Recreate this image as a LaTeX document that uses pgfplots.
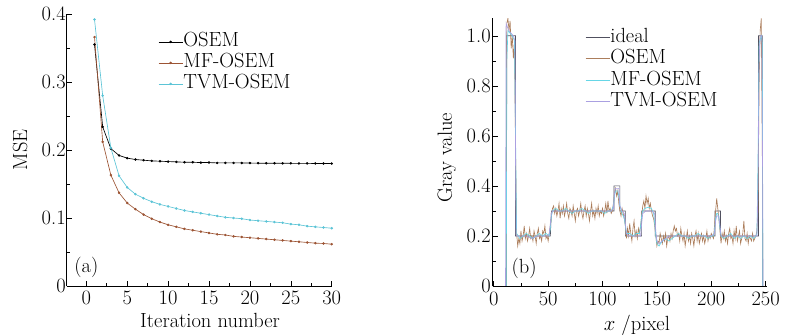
\documentclass[border=0pt]{standalone}
\usepackage{fontspec}
\setmainfont{Latin Modern Roman}
\usepackage{pgfplots}
\pgfplotsset{compat=1.18}
\definecolor{cOSEMa}{HTML}{000000}
\definecolor{cMFa}{HTML}{9C5434}
\definecolor{cTVMa}{HTML}{5CC4D6}
\definecolor{cIdeal}{HTML}{50505F}
\definecolor{cOSEMb}{HTML}{AC7E5C}
\definecolor{cMFb}{HTML}{66D6E6}
\definecolor{cTVMb}{HTML}{AAA0E1}
\begin{document}
\begin{tikzpicture}[font=\fontsize{20.5}{25}\selectfont]
\useasboundingbox (0pt,0pt) rectangle (789pt,336pt);
\pgfplotsset{
  common/.style={
    scale only axis,
    axis x line*=bottom, axis y line*=left,
    axis line style={line width=0.8pt},
    major tick length=5pt, minor tick length=3pt,
    every tick/.style={black, line width=0.6pt},
    minor x tick num=1, minor y tick num=1,
    /pgf/number format/assume math mode=true,
    legend cell align=left,
    clip=true,
  }
}
% ---------------- (a) ----------------
\begin{axis}[common,
  at={(66.7pt,50pt)}, anchor=south west,
  width=265pt, height=272pt,
  xmin=-2.4, xmax=30, ymin=0, ymax=0.4,
  xtick={0,5,10,15,20,25,30},
  xticklabels={0,5,10,15,20,25,30},
  ytick={0,0.1,0.2,0.3,0.4},
  yticklabels={0,0.1,0.2,0.3,0.4},
  yticklabel style={xshift=2.5pt},
  xticklabel style={yshift=-1.5pt},
  xlabel={Iteration number}, ylabel={MSE},
  every axis x label/.style={at={(axis description cs:0.541,-0.125)}, anchor=center},
  every axis y label/.style={at={(axis description cs:-0.176,0.5)}, anchor=center, rotate=90},
  legend style={draw=none, fill=none, inner sep=0pt, at={(rel axis cs:0.345,0.935)}, anchor=north west, row sep=1pt,
    nodes={inner sep=0.5pt, text height=14.5pt, text depth=4.5pt}},
  legend image code/.code={\draw[mark repeat=2,mark phase=2,#1] plot coordinates {(0pt,0pt)(12pt,0pt)(24pt,0pt)};},
  every axis plot/.append style={line width=0.65pt, mark=*, mark size=0.9pt},
]
\addplot[cOSEMa, mark options={fill=cOSEMa}] coordinates {
(1,0.355)(2,0.234)(3,0.202)(4,0.192)(5,0.188)(6,0.186)(7,0.185)(8,0.184)(9,0.1835)(10,0.183)
(11,0.1825)(12,0.182)(13,0.182)(14,0.1815)(15,0.1815)(16,0.181)(17,0.181)(18,0.181)(19,0.181)(20,0.1808)
(21,0.1806)(22,0.1805)(23,0.1805)(24,0.1804)(25,0.1804)(26,0.1803)(27,0.1803)(28,0.1802)(29,0.1802)(30,0.180)};
\addlegendentry{OSEM}
\addplot[cMFa, mark options={fill=cMFa}] coordinates {
(1,0.366)(2,0.212)(3,0.163)(4,0.137)(5,0.122)(6,0.113)(7,0.105)(8,0.099)(9,0.094)(10,0.090)
(11,0.087)(12,0.084)(13,0.082)(14,0.080)(15,0.078)(16,0.076)(17,0.075)(18,0.073)(19,0.072)(20,0.071)
(21,0.070)(22,0.069)(23,0.068)(24,0.067)(25,0.066)(26,0.065)(27,0.064)(28,0.063)(29,0.0625)(30,0.0615)};
\addlegendentry{MF-OSEM}
\addplot[cTVMa, mark options={fill=cTVMa}] coordinates {
(1,0.392)(2,0.280)(3,0.203)(4,0.162)(5,0.145)(6,0.135)(7,0.129)(8,0.124)(9,0.120)(10,0.117)
(11,0.114)(12,0.111)(13,0.109)(14,0.107)(15,0.105)(16,0.103)(17,0.101)(18,0.100)(19,0.099)(20,0.097)
(21,0.096)(22,0.095)(23,0.094)(24,0.093)(25,0.091)(26,0.090)(27,0.088)(28,0.087)(29,0.086)(30,0.085)};
\addlegendentry{TVM-OSEM}
\node[anchor=center] at (axis cs:0,0.027) {(a)};
\end{axis}
% ---------------- (b) ----------------
\begin{axis}[common,
  at={(492.7pt,50pt)}, anchor=south west,
  width=274pt, height=267.7pt,
  xmin=-1, xmax=251, ymin=0, ymax=1.07,
  xtick={0,50,100,150,200,250},
  xticklabels={0,50,100,150,200,250},
  ytick={0,0.2,0.4,0.6,0.8,1.0},
  yticklabels={0,0.2,0.4,0.6,0.8,1.0},
  yticklabel style={xshift=1.5pt},
  xticklabel style={yshift=-2.5pt},
  xlabel={$x$ /pixel}, ylabel={Gray value},
  every axis x label/.style={at={(axis description cs:0.526,-0.146)}, anchor=center},
  every axis y label/.style={at={(axis description cs:-0.168,0.48)}, anchor=center, rotate=90},
  legend style={draw=none, fill=none, inner sep=0pt, at={(rel axis cs:0.337,0.968)}, anchor=north west, row sep=1.5pt,
    nodes={inner sep=0.5pt, text height=14.5pt, text depth=4.5pt}},
  legend image code/.code={\draw[#1] (0pt,0pt) -- (24pt,0pt);},
  every axis plot/.append style={line width=0.65pt, mark=none},
]
\addplot[cIdeal] coordinates {
(11.6,0)(11.6,1)(20,1)(20,0.2)(52,0.2)(53,0.3)(110.5,0.3)(110.5,0.4)(116,0.4)(116,0.3)
(121,0.3)(121,0.2)(136,0.2)(136,0.3)(148.5,0.3)(148.5,0.2)(203.5,0.2)(203.5,0.3)(208.5,0.3)(208.5,0.2)
(243.5,0.2)(243.5,1)(247,1)(247,0)};
\addlegendentry{ideal}
\addplot[cOSEMb] coordinates {
(11.5,0)(12,1.05)(13,1.07)(14,1.02)(15,1.06)(16,0.95)(17,1.0)(18,0.91)(19,0.97)(20,0.55)
(21,0.21)(22,0.16)(23,0.19)(24,0.17)(25,0.22)(26,0.18)(27,0.20)(28,0.24)(29,0.19)(30,0.21)
(31,0.18)(32,0.20)(33,0.23)(34,0.19)(35,0.20)(36,0.18)(37,0.22)(38,0.20)(39,0.17)(40,0.21)
(41,0.23)(42,0.19)(43,0.20)(44,0.18)(45,0.22)(46,0.21)(47,0.24)(48,0.19)(49,0.20)(50,0.18)
(51,0.21)(52,0.24)(53,0.28)(54,0.31)(55,0.32)(56,0.29)(57,0.31)(58,0.28)(59,0.30)(60,0.33)
(61,0.27)(62,0.31)(63,0.29)(64,0.32)(65,0.28)(66,0.30)(67,0.33)(68,0.29)(69,0.27)(70,0.31)
(71,0.30)(72,0.28)(73,0.32)(74,0.29)(75,0.26)(76,0.30)(77,0.31)(78,0.28)(79,0.30)(80,0.33)
(81,0.29)(82,0.27)(83,0.30)(84,0.32)(85,0.28)(86,0.31)(87,0.29)(88,0.26)(89,0.30)(90,0.33)
(91,0.28)(92,0.30)(93,0.27)(94,0.31)(95,0.29)(96,0.32)(97,0.28)(98,0.30)(99,0.29)(100,0.31)
(101,0.28)(102,0.30)(103,0.33)(104,0.29)(105,0.34)(106,0.30)(107,0.31)(108,0.29)(109,0.30)(110,0.33)
(111,0.37)(112,0.39)(113,0.36)(114,0.38)(115,0.33)(116,0.30)(117,0.28)(118,0.31)(119,0.29)(120,0.27)
(121,0.24)(122,0.19)(123,0.23)(124,0.20)(125,0.25)(126,0.21)(127,0.18)(128,0.23)(129,0.26)(130,0.20)
(131,0.22)(132,0.19)(133,0.23)(134,0.21)(135,0.24)(136,0.28)(137,0.32)(138,0.34)(139,0.31)(140,0.36)
(141,0.33)(142,0.35)(143,0.31)(144,0.33)(145,0.30)(146,0.28)(147,0.27)(148,0.24)(149,0.20)(150,0.16)
(151,0.18)(152,0.17)(153,0.21)(154,0.19)(155,0.17)(156,0.20)(157,0.18)(158,0.21)(159,0.16)(160,0.19)
(161,0.20)(162,0.18)(163,0.21)(164,0.19)(165,0.22)(166,0.24)(167,0.22)(168,0.23)(169,0.20)(170,0.21)
(171,0.18)(172,0.23)(173,0.20)(174,0.18)(175,0.21)(176,0.16)(177,0.19)(178,0.22)(179,0.18)(180,0.20)
(181,0.17)(182,0.21)(183,0.19)(184,0.16)(185,0.20)(186,0.22)(187,0.18)(188,0.21)(189,0.17)(190,0.19)
(191,0.21)(192,0.18)(193,0.20)(194,0.17)(195,0.19)(196,0.22)(197,0.18)(198,0.20)(199,0.19)(200,0.21)
(201,0.20)(202,0.19)(203,0.24)(204,0.30)(205,0.35)(206,0.31)(207,0.27)(208,0.22)(209,0.17)(210,0.21)
(211,0.19)(212,0.22)(213,0.18)(214,0.20)(215,0.17)(216,0.21)(217,0.23)(218,0.19)(219,0.20)(220,0.17)
(221,0.22)(222,0.19)(223,0.24)(224,0.18)(225,0.20)(226,0.22)(227,0.17)(228,0.19)(229,0.21)(230,0.26)
(231,0.19)(232,0.18)(233,0.21)(234,0.17)(235,0.20)(236,0.19)(237,0.18)(238,0.21)(239,0.18)(240,0.19)
(241,0.20)(242,0.22)(243,0.30)(244,0.80)(245,1.02)(246,1.07)(247,0.50)(247.5,0)};
\addlegendentry{OSEM}
\addplot[cMFb] coordinates {
(11.5,0)(12,0.9)(13,1.02)(15,1.01)(17,1.0)(19,0.98)(20,0.6)(21,0.21)(24,0.19)(27,0.20)
(30,0.21)(33,0.20)(36,0.19)(39,0.20)(42,0.21)(45,0.20)(48,0.21)(51,0.20)(52,0.23)(53,0.28)
(54,0.30)(57,0.31)(60,0.30)(63,0.30)(66,0.31)(69,0.30)(72,0.29)(75,0.30)(78,0.30)(81,0.31)
(84,0.30)(87,0.29)(90,0.30)(93,0.30)(96,0.30)(99,0.30)(102,0.29)(105,0.30)(108,0.30)(110,0.32)
(111,0.36)(112,0.38)(114,0.38)(115,0.36)(116,0.32)(118,0.29)(120,0.27)(121,0.24)(122,0.21)(125,0.21)
(128,0.20)(131,0.21)(134,0.21)(135,0.24)(136,0.28)(137,0.30)(139,0.31)(142,0.315)(145,0.31)(147,0.29)
(148,0.25)(149,0.20)(150,0.17)(152,0.16)(155,0.18)(158,0.19)(161,0.18)(164,0.19)(167,0.20)(170,0.21)
(173,0.20)(176,0.20)(179,0.19)(182,0.20)(185,0.20)(188,0.21)(191,0.20)(194,0.20)(197,0.19)(200,0.20)
(202,0.20)(203,0.22)(204,0.27)(205,0.29)(206,0.29)(207,0.27)(208,0.23)(209,0.20)(212,0.19)(215,0.20)
(218,0.21)(221,0.19)(224,0.20)(227,0.19)(230,0.20)(233,0.19)(236,0.20)(239,0.19)(241,0.20)(242,0.21)
(243,0.50)(244,0.97)(246,1.0)(247,0.97)(247.4,0)};
\addlegendentry{MF-OSEM}
\addplot[cTVMb] coordinates {
(10.8,0)(11.3,1.05)(12,1.04)(14,1.02)(16,1.01)(18,1.0)(19.5,0.98)(20,0.5)(20.5,0.2)(25,0.20)
(30,0.20)(35,0.19)(40,0.20)(45,0.20)(50,0.20)(51,0.21)(52,0.25)(53,0.29)(54,0.30)(60,0.30)
(70,0.30)(80,0.30)(90,0.30)(100,0.30)(108,0.30)(110,0.31)(111,0.37)(112,0.39)(115,0.39)(116,0.32)
(118,0.30)(120,0.29)(121,0.25)(122,0.21)(124,0.20)(130,0.20)(135,0.20)(136,0.25)(137,0.29)(140,0.30)
(145,0.30)(148,0.29)(149,0.22)(150,0.18)(152,0.17)(155,0.18)(158,0.19)(162,0.20)(170,0.20)(180,0.20)
(190,0.20)(200,0.20)(203,0.21)(204,0.26)(205,0.28)(207,0.28)(208,0.24)(209,0.20)(215,0.20)(225,0.20)
(235,0.20)(242,0.20)(243,0.40)(244,0.90)(245,1.0)(246.5,1.0)(247.3,0.4)(247.6,0)};
\addlegendentry{TVM-OSEM}
\node[anchor=center] at (axis cs:27.8,0.072) {(b)};
\end{axis}
\end{tikzpicture}
\end{document}
